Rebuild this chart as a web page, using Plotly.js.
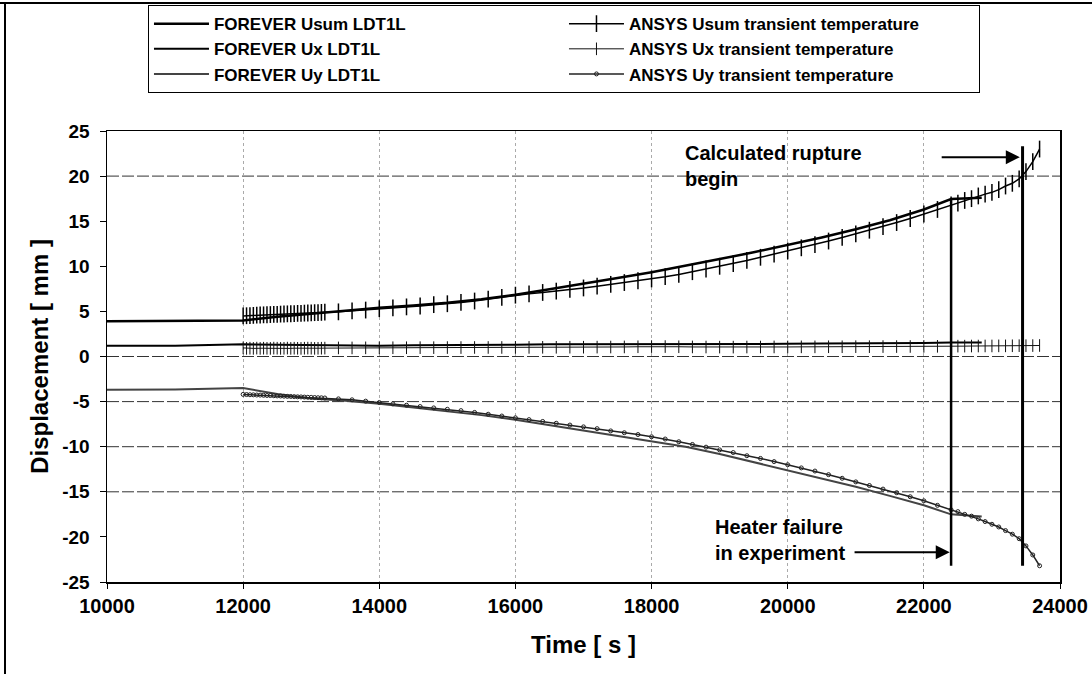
<!DOCTYPE html>
<html>
<head>
<meta charset="utf-8">
<script src="https://cdn.plot.ly/plotly-3.0.1.min.js"></script>
<style>
  html, body { margin: 0; padding: 0; background: #fff; }
  #wrap { position: relative; width: 1092px; height: 674px; }
  #chart { width: 1092px; height: 674px; }
  .bl { position: absolute; background: #000; pointer-events: none; }
</style>
</head>
<body>
<div id="wrap">
  <div id="chart"></div>
  <div class="bl" style="left:0;top:2px;width:1092px;height:2px;"></div>
  <div class="bl" style="left:4px;top:2px;width:2px;height:672px;"></div>
</div>
<script>
// ---------- DATA ----------
// FOREVER (LDT1L) results
const foreverTime = [10000, 11000, 12000, 12500, 13000, 13500, 14000, 14500, 15000, 15500, 16000, 16500, 17000, 17500, 18000, 18500, 19000, 19500, 20000, 20500, 21000, 21500, 22000, 22400, 22850];
const foreverUsum = [3.9, 3.95, 4.0, 4.4, 4.75, 5.05, 5.4, 5.65, 5.95, 6.35, 6.85, 7.45, 8.05, 8.7, 9.35, 10.05, 10.8, 11.55, 12.35, 13.2, 14.1, 15.1, 16.3, 17.45, 17.6];
const foreverUx   = [1.2, 1.2, 1.35, 1.3, 1.25, 1.2, 1.2, 1.25, 1.25, 1.3, 1.3, 1.35, 1.35, 1.4, 1.4, 1.35, 1.35, 1.4, 1.4, 1.45, 1.45, 1.5, 1.5, 1.55, 1.55];
const foreverUy   = [-3.7, -3.65, -3.5, -4.15, -4.65, -4.9, -5.25, -5.65, -6.05, -6.5, -7.0, -7.6, -8.2, -8.8, -9.35, -10.0, -10.8, -11.7, -12.6, -13.5, -14.45, -15.45, -16.5, -17.5, -17.75];

// ANSYS transient temperature results
const ansysTime = [
  12000, 12050, 12100, 12150, 12200, 12250, 12300, 12350, 12400, 12450, 12500, 12550, 12600, 12650, 12700, 12750, 12800, 12850, 12900, 12950, 13000, 13050, 13100, 13150, 13200,
  13400, 13600, 13800, 14000, 14200, 14400, 14600, 14800, 15000, 15200, 15400, 15600, 15800,
  16000, 16200, 16400, 16600, 16800, 17000, 17200, 17400, 17600, 17800, 18000,
  18200, 18400, 18600, 18800, 19000, 19200, 19400, 19600, 19800, 20000, 20200, 20400, 20600, 20800, 21000, 21200, 21400, 21600, 21800, 22000, 22200, 22400,
  22500, 22600, 22700, 22800, 22900, 23000, 23100, 23200, 23300, 23400, 23500, 23600, 23700
];
const ansysUsum = [
  4.5, 4.52, 4.54, 4.56, 4.58, 4.6, 4.62, 4.63, 4.65, 4.66, 4.68, 4.7, 4.71, 4.73, 4.74, 4.76, 4.78, 4.79, 4.81, 4.82, 4.84, 4.86, 4.87, 4.89, 4.91,
  4.95, 5.05, 5.15, 5.3, 5.4, 5.5, 5.6, 5.75, 5.85, 6.0, 6.15, 6.35, 6.55,
  6.8, 6.95, 7.1, 7.25, 7.45, 7.6, 7.8, 8.0, 8.2, 8.4, 8.6,
  8.85, 9.1, 9.4, 9.7, 10.0, 10.3, 10.65, 11.0, 11.35, 11.7, 12.05, 12.4, 12.8, 13.2, 13.6, 14.0, 14.4, 14.85, 15.3, 15.8, 16.3, 16.8,
  17.0, 17.3, 17.5, 17.8, 18.0, 18.2, 18.5, 18.9, 19.2, 19.7, 20.5, 21.6, 23.0
];
const ansysUx = [
  0.95, 0.9, 0.92, 0.9, 0.93, 0.9, 0.92, 0.91, 0.9, 0.93, 0.92, 0.9, 0.91, 0.93, 0.9, 0.92, 0.91, 0.9, 0.92, 0.93, 0.92, 0.9, 0.91, 0.92, 0.93,
  0.95, 0.95, 0.96, 0.96, 0.97, 0.97, 0.98, 0.98, 0.99, 0.99, 1.0, 1.0, 1.0,
  1.01, 1.01, 1.02, 1.02, 1.03, 1.03, 1.04, 1.05, 1.06, 1.08, 1.1,
  1.1, 1.08, 1.06, 1.05, 1.04, 1.04, 1.05, 1.05, 1.06, 1.06, 1.07, 1.07, 1.08, 1.08, 1.09, 1.09, 1.1, 1.1, 1.11, 1.12, 1.13, 1.14,
  1.15, 1.15, 1.16, 1.16, 1.17, 1.17, 1.18, 1.18, 1.19, 1.2, 1.2, 1.21, 1.22
];
const ansysUy = [
  -4.2, -4.22, -4.24, -4.25, -4.27, -4.28, -4.3, -4.32, -4.33, -4.35, -4.37, -4.38, -4.4, -4.42, -4.43, -4.45, -4.47, -4.48, -4.5, -4.52, -4.53, -4.55, -4.57, -4.58, -4.6,
  -4.7, -4.8, -4.95, -5.1, -5.25, -5.4, -5.55, -5.7, -5.85, -6.0, -6.2, -6.4, -6.6,
  -6.8, -7.0, -7.2, -7.4, -7.6, -7.8, -8.0, -8.25, -8.45, -8.65, -8.9,
  -9.15, -9.45, -9.75, -10.05, -10.35, -10.65, -11.0, -11.3, -11.65, -12.0, -12.35, -12.7, -13.1, -13.5, -13.9, -14.3, -14.7, -15.1, -15.55, -16.0, -16.5, -17.0,
  -17.2, -17.5, -17.7, -18.0, -18.3, -18.6, -18.9, -19.3, -19.7, -20.2, -21.0, -22.0, -23.2
];

// Axis ticks
const yTickVals = [25, 20, 15, 10, 5, 0, -5, -10, -15, -20, -25];
const yTickText = ['25', '20', '15', '10', '5', '0', '-5', '-10', '-15', '-20', '-25'];

// Event markers (time [s]) and annotation texts
const heaterFailureTime = 22400;
const ruptureTime = 23450;
const heaterLineSpan = [17.45, -23.2];
const ruptureLineSpan = [23.3, -23.2];
const horizontalGrid = [20, 0, -5, -10, -15];
const labelRupture = 'Calculated rupture<br>begin';
const labelHeater = 'Heater failure<br>in experiment';
const yTitle = 'Displacement [ mm ]';
const xTitle = 'Time [ s ]';

// ---------- CHART ----------
const FONT = 'Arial, "Liberation Sans", Helvetica, sans-serif';

const traces = [
  { name: 'FOREVER Usum LDT1L', x: foreverTime, y: foreverUsum, mode: 'lines',
    line: { color: '#000', width: 2.5 } },
  { name: 'ANSYS Usum transient temperature', x: ansysTime, y: ansysUsum, mode: 'lines+markers',
    line: { color: '#000', width: 1.5 },
    marker: { symbol: 'line-ns-open', size: 12, line: { color: '#000', width: 1.5 } } },
  { name: 'FOREVER Ux LDT1L', x: foreverTime, y: foreverUx, mode: 'lines',
    line: { color: '#000', width: 2 } },
  { name: 'ANSYS Ux transient temperature', x: ansysTime, y: ansysUx, mode: 'lines+markers',
    line: { color: '#111', width: 1 },
    marker: { symbol: 'line-ns-open', size: 9, line: { color: '#000', width: 1 } } },
  { name: 'FOREVER Uy LDT1L', x: foreverTime, y: foreverUy, mode: 'lines',
    line: { color: '#444', width: 2 } },
  { name: 'ANSYS Uy transient temperature', x: ansysTime, y: ansysUy, mode: 'lines+markers',
    line: { color: '#222', width: 1.5 },
    marker: { symbol: 'circle-open', size: 4, line: { color: '#aaa', width: 1 } } }
];

const shapes = [];
horizontalGrid.forEach(v => shapes.push({
  type: 'line', xref: 'paper', yref: 'y', x0: 0, x1: 1, y0: v, y1: v,
  line: { color: '#333', width: 1, dash: '12px,3px' }, layer: 'below'
}));
shapes.push({ type: 'line', xref: 'x', yref: 'y', x0: heaterFailureTime, x1: heaterFailureTime,
  y0: heaterLineSpan[0], y1: heaterLineSpan[1], line: { color: '#000', width: 2.5 } });
shapes.push({ type: 'line', xref: 'x', yref: 'y', x0: ruptureTime, x1: ruptureTime,
  y0: ruptureLineSpan[0], y1: ruptureLineSpan[1], line: { color: '#000', width: 3 } });

const annotations = [
  { x: 18460, y: 21.1, xref: 'x', yref: 'y', text: labelRupture, showarrow: false,
    xanchor: 'left', yanchor: 'middle', align: 'left',
    font: { family: FONT, size: 20, color: '#000', weight: 'bold' } },
  { x: 18900, y: -20.3, xref: 'x', yref: 'y', text: labelHeater, showarrow: false,
    xanchor: 'left', yanchor: 'middle', align: 'left',
    font: { family: FONT, size: 20, color: '#000', weight: 'bold' } },
  { x: ruptureTime - 40, y: 22.1, ax: 22240, ay: 22.1, xref: 'x', yref: 'y', axref: 'x', ayref: 'y',
    text: '', showarrow: true, arrowhead: 2, arrowsize: 1.4, arrowwidth: 2, arrowcolor: '#000' },
  { x: heaterFailureTime - 20, y: -21.7, ax: 20960, ay: -21.7, xref: 'x', yref: 'y', axref: 'x', ayref: 'y',
    text: '', showarrow: true, arrowhead: 2, arrowsize: 1.4, arrowwidth: 2, arrowcolor: '#000' },
  { x: -0.071, y: 0.5, xref: 'paper', yref: 'paper', text: yTitle, showarrow: false, textangle: -90,
    xanchor: 'center', yanchor: 'middle',
    font: { family: FONT, size: 24, color: '#000', weight: 'bold' } }
];

const layout = {
  width: 1092, height: 674,
  margin: { l: 107, r: 32, t: 131, b: 92, autoexpand: false },
  paper_bgcolor: '#fff', plot_bgcolor: '#fff',
  font: { family: FONT, size: 16, color: '#000', weight: 'bold' },
  showlegend: true,
  legend: {
    orientation: 'h', x: 0.043, y: 1.279, xanchor: 'left', yanchor: 'top',
    entrywidth: 345, entrywidthmode: 'pixels',
    bordercolor: '#000', borderwidth: 1, bgcolor: '#fff',
    font: { family: FONT, size: 17, color: '#000', weight: 'bold' },
    traceorder: 'normal', itemwidth: 55
  },
  xaxis: {
    range: [10000, 24000], dtick: 2000, tick0: 10000, tickformat: 'd',
    showline: true, mirror: true, linecolor: '#000', linewidth: 1.5,
    ticks: 'outside', ticklen: 5, tickcolor: '#000',
    ticklabelstandoff: 0,
    showgrid: true, gridcolor: '#aaa', griddash: 'dot', gridwidth: 1,
    zeroline: false,
    tickfont: { family: FONT, size: 20, weight: 'bold' },
    title: { text: xTitle, font: { family: FONT, size: 24, weight: 'bold' }, standoff: 20 }
  },
  yaxis: {
    range: [-25, 25], tickmode: 'array', tickvals: yTickVals, ticktext: yTickText,
    showline: true, mirror: true, linecolor: '#000', linewidth: 1.5,
    ticks: 'outside', ticklen: 6, tickcolor: '#000',
    ticklabelstandoff: 6,
    showgrid: false, zeroline: false,
    tickfont: { family: FONT, size: 19, weight: 'bold' }
  },
  shapes: shapes,
  annotations: annotations
};

Plotly.newPlot('chart', traces, layout, { displayModeBar: false, staticPlot: true });
</script>
</body>
</html>
